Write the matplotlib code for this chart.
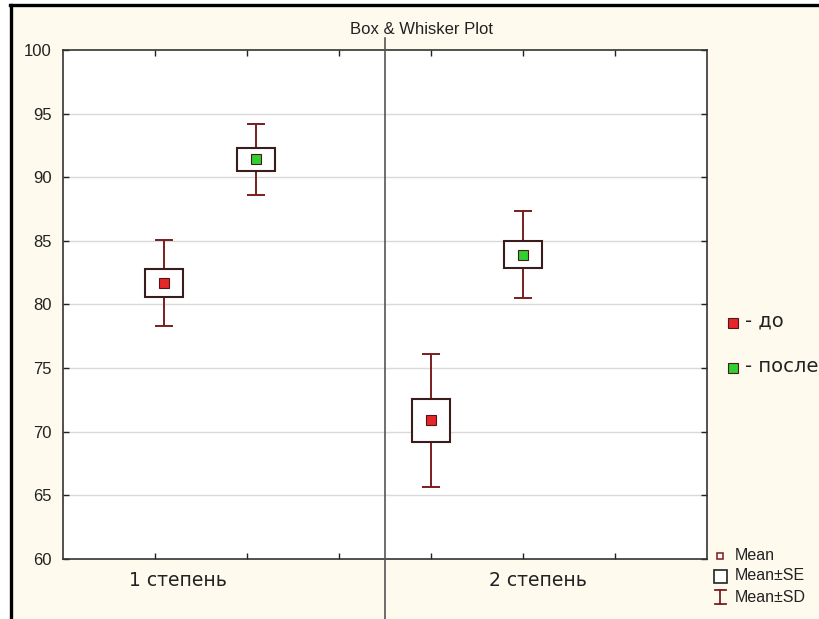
import matplotlib
matplotlib.use("Agg")
import matplotlib.pyplot as plt
from matplotlib.patches import Rectangle
from matplotlib.lines import Line2D
from matplotlib.transforms import blended_transform_factory

# ---- data ----
groups = ['1 степень', '2 степень']
series_names = ['до', 'после']
mean_do = [81.7, 70.9]
se_do = [1.1, 1.67]
sd_do = [3.4, 5.24]
mean_posle = [91.4, 83.9]
se_posle = [0.9, 1.06]
sd_posle = [2.8, 3.41]
yticks = [60, 65, 70, 75, 80, 85, 90, 95, 100]
title = 'Box & Whisker Plot'

# ---- style ----
W, H = 820, 619
DPI = 100
CREAM = '#fefaee'
WHISK = '#7a1e1e'
BOXC = '#3a1c1c'
RED = '#e8262a'
GREEN = '#2fd02f'

fig = plt.figure(figsize=(W / DPI, H / DPI), dpi=DPI, facecolor='white')
# cream panel with black border on left and top only (screenshot frame)
fig.add_artist(Rectangle((11 / W, 0), 1, 1 - 5 / H, transform=fig.transFigure,
                         facecolor=CREAM, edgecolor='none', zorder=0))
fig.add_artist(Line2D([11 / W, 11 / W], [0, 1 - 4.5 / H], color='black', linewidth=2.4,
                      transform=fig.transFigure, zorder=1))
fig.add_artist(Line2D([10 / W, 1], [1 - 4.5 / H, 1 - 4.5 / H], color='black', linewidth=2.4,
                      transform=fig.transFigure, zorder=1))

ax = fig.add_axes([63 / W, 1 - 559 / H, (707 - 63) / W, (559 - 50) / H])
ax.set_facecolor('white')
ax.set_xlim(0, 7)
ax.set_ylim(60, 100)
for s in ax.spines.values():
    s.set_color('#333333')
    s.set_linewidth(1.2)

ax.set_yticks(yticks)
ax.set_yticklabels([str(v) for v in yticks], fontsize=12, family='Liberation Sans', color='#222222')
ax.set_xticks([1, 2, 3, 4, 5, 6])
ax.set_xticklabels([])
ax.tick_params(axis='both', direction='in', length=4, width=1, color='#222222',
               top=True, right=True, pad=8)
for v in yticks[1:-1]:
    ax.axhline(v, color='#d9d9d9', linewidth=1, zorder=0)

# divider line extending above and below axes
tr = blended_transform_factory(ax.transData, fig.transFigure)
ax.add_line(Line2D([3.5, 3.5], [0, 1 - 38 / H], transform=tr, color='#555555',
                   linewidth=1.2, clip_on=False, zorder=5))

pos_do = [1.1, 4.0]
pos_posle = [2.1, 5.0]
box_w = 0.41
cap_w = 0.2


def draw(x, m, se, sd, color):
    ax.vlines(x, m - sd, m + sd, color=WHISK, linewidth=1.4, zorder=2)
    ax.hlines([m - sd, m + sd], x - cap_w / 2, x + cap_w / 2, color=WHISK, linewidth=1.4, zorder=2)
    ax.add_patch(Rectangle((x - box_w / 2, m - se), box_w, 2 * se, facecolor='white',
                           edgecolor=BOXC, linewidth=1.5, zorder=3))
    ax.plot([x], [m], marker='s', markersize=6.5, markerfacecolor=color,
            markeredgecolor='#4a1a1a', markeredgewidth=0.8, zorder=4)


for i in range(len(groups)):
    draw(pos_do[i], mean_do[i], se_do[i], sd_do[i], RED)
    draw(pos_posle[i], mean_posle[i], se_posle[i], sd_posle[i], GREEN)

# group labels
trx = blended_transform_factory(ax.transData, fig.transFigure)
for x, g in zip([1.25, 5.16], groups):
    ax.text(x, 1 - 581 / H, g, transform=trx, ha='center', va='center',
            fontsize=13.5, family='DejaVu Sans', color='#222222')

fig.text(422 / W, 1 - 30 / H, title, ha='center', va='center', fontsize=12,
         family='Liberation Sans', color='#222222')

# series legend on right
for yy, name, c in zip([323, 368], series_names, [RED, GREEN]):
    fig.add_artist(Line2D([733 / W], [1 - yy / H], marker='s', markersize=6.5,
                          markerfacecolor=c, markeredgecolor='#4a1a1a',
                          markeredgewidth=0.8, transform=fig.transFigure))
    fig.text(745 / W, 1 - (yy - 2) / H, '- ' + name, ha='left', va='center',
             fontsize=14, family='DejaVu Sans', color='#222222')

# box legend bottom right
fig.add_artist(Line2D([720 / W], [1 - 556 / H], marker='s', markersize=5,
                      markerfacecolor='white', markeredgecolor='#8a2a2a',
                      markeredgewidth=1.2, transform=fig.transFigure))
fig.add_artist(Rectangle((714 / W, 1 - 583 / H), 13 / W, 13 / H, transform=fig.transFigure,
                         facecolor='white', edgecolor='#222222', linewidth=1.2))
fig.add_artist(Line2D([720.5 / W, 720.5 / W], [1 - 590 / H, 1 - 604 / H], color=WHISK,
                      linewidth=1.3, transform=fig.transFigure))
fig.add_artist(Line2D([715 / W, 726 / W], [1 - 590 / H, 1 - 590 / H], color=WHISK,
                      linewidth=1.3, transform=fig.transFigure))
fig.add_artist(Line2D([715 / W, 726 / W], [1 - 604 / H, 1 - 604 / H], color=WHISK,
                      linewidth=1.3, transform=fig.transFigure))
for yy, t in zip([556, 576, 597], ['Mean', 'Mean±SE', 'Mean±SD']):
    fig.text(735 / W, 1 - yy / H, t, ha='left', va='center', fontsize=11.5,
             family='Liberation Sans', color='#222222')

fig.savefig('out.png', dpi=DPI, facecolor=fig.get_facecolor())
